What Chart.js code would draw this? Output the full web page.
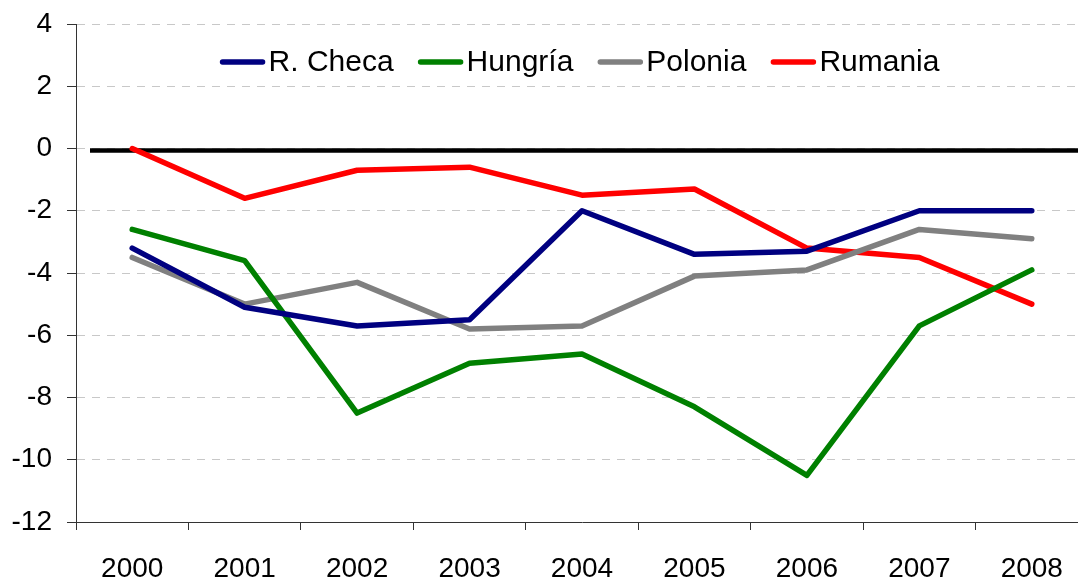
<!DOCTYPE html>
<html>
<head>
<meta charset="utf-8">
<script src="https://cdn.jsdelivr.net/npm/chart.js@4.4.1/dist/chart.umd.min.js"></script>
<style>
  html, body { margin: 0; padding: 0; background: #fff; overflow: hidden; }
  #wrap { width: 1088px; height: 579px; position: relative; }
</style>
</head>
<body>
<div id="wrap"><canvas id="c"></canvas></div>
<script>
const years = ['2000','2001','2002','2003','2004','2005','2006','2007','2008'];
const seriesNames = ['R. Checa','Hungría','Polonia','Rumania'];
const checa   = [-3.2, -5.1, -5.7, -5.5, -2.0, -3.4, -3.3, -2.0, -2.0];
const hungria = [-2.6, -3.6, -8.5, -6.9, -6.6, -8.3, -10.5, -5.7, -3.9];
const polonia = [-3.5, -5.0, -4.3, -5.8, -5.7, -4.1, -3.9, -2.6, -2.9];
const rumania = [0.0, -1.6, -0.7, -0.6, -1.5, -1.3, -3.2, -3.5, -5.0];
const yMin = -12, yMax = 4, yStep = 2;
const colors = ['#000080', '#008000', '#808080', '#ff0000'];

const FONT = '"Liberation Sans", Arial, sans-serif';

const zeroLine = {
  id: 'zeroLine',
  beforeDatasetsDraw(chart) {
    const {ctx, chartArea, scales} = chart;
    const y = scales.y.getPixelForValue(0) + 2;
    ctx.save();
    ctx.strokeStyle = '#000';
    ctx.lineWidth = 4.5;
    ctx.beginPath();
    ctx.moveTo(chartArea.left + 14, y);
    ctx.lineTo(chart.width, y);
    ctx.stroke();
    ctx.restore();
  }
};

const customLegend = {
  id: 'customLegend',
  afterDatasetsDraw(chart) {
    const {ctx, chartArea} = chart;
    const lineLen = 44, gap = 4, spacing = 25;
    ctx.save();
    ctx.font = '30px ' + FONT;
    const items = chart.data.datasets.map(d => ({label: d.label, color: d.borderColor, w: ctx.measureText(d.label).width}));
    let total = 0;
    items.forEach((it, i) => { total += lineLen + gap + it.w + (i < items.length - 1 ? spacing : 0); });
    let x = (chartArea.left + chartArea.right) / 2 - total / 2 - 2;
    const y = chartArea.top + 38;
    items.forEach(it => {
      ctx.strokeStyle = it.color;
      ctx.lineWidth = 5.5;
      ctx.lineCap = 'round';
      ctx.beginPath();
      ctx.moveTo(x + 2, y);
      ctx.lineTo(x + lineLen - 2, y);
      ctx.stroke();
      ctx.fillStyle = '#000';
      ctx.textBaseline = 'middle';
      ctx.textAlign = 'left';
      ctx.fillText(it.label, x + lineLen + gap, y + 1);
      x += lineLen + gap + it.w + spacing;
    });
    ctx.restore();
  }
};

const datasets = [checa, hungria, polonia, rumania].map((vals, i) => ({
  label: seriesNames[i],
  data: vals,
  borderColor: colors[i],
  backgroundColor: colors[i],
  borderWidth: 5.5,
  pointRadius: 0,
  pointHoverRadius: 0,
  borderCapStyle: 'round',
  borderJoinStyle: 'round',
  tension: 0,
  fill: false
}));

new Chart(document.getElementById('c'), {
  type: 'line',
  data: { labels: years, datasets },
  options: {
    responsive: true,
    maintainAspectRatio: false,
    animation: false,
    events: [],
    layout: { padding: { left: 0, top: 24, right: 0, bottom: 0 } },
    plugins: {
      legend: { display: false },
      tooltip: { enabled: false }
    },
    scales: {
      x: {
        offset: true,
        afterFit(scale) { scale.height = 57; scale.paddingLeft = 0; scale.paddingRight = 0; },
        grid: {
          offset: true,
          drawOnChartArea: false,
          drawTicks: true,
          tickLength: 8,
          tickColor: '#333',
          tickWidth: 1
        },
        border: { display: true, color: '#333', width: 1 },
        ticks: {
          color: '#000',
          font: { family: FONT, size: 28 },
          padding: 22,
          maxRotation: 0,
          autoSkip: false
        }
      },
      y: {
        min: yMin,
        max: yMax,
        afterFit(scale) { scale.width = 76; scale.paddingTop = 0; scale.paddingBottom = 0; },
        ticks: {
          stepSize: yStep,
          color: '#000',
          font: { family: FONT, size: 28 },
          padding: 15
        },
        grid: {
          color: ctx => (ctx.tick && ctx.tick.value === yMin) ? 'rgba(0,0,0,0)' : '#c8c8c8',
          lineWidth: 1,
          drawTicks: true,
          tickLength: 9,
          tickColor: '#333',
          tickWidth: 1
        },
        border: { display: true, color: '#333', width: 1, dash: [8, 7] }
      }
    }
  },
  plugins: [zeroLine, customLegend]
});
</script>
</body>
</html>
